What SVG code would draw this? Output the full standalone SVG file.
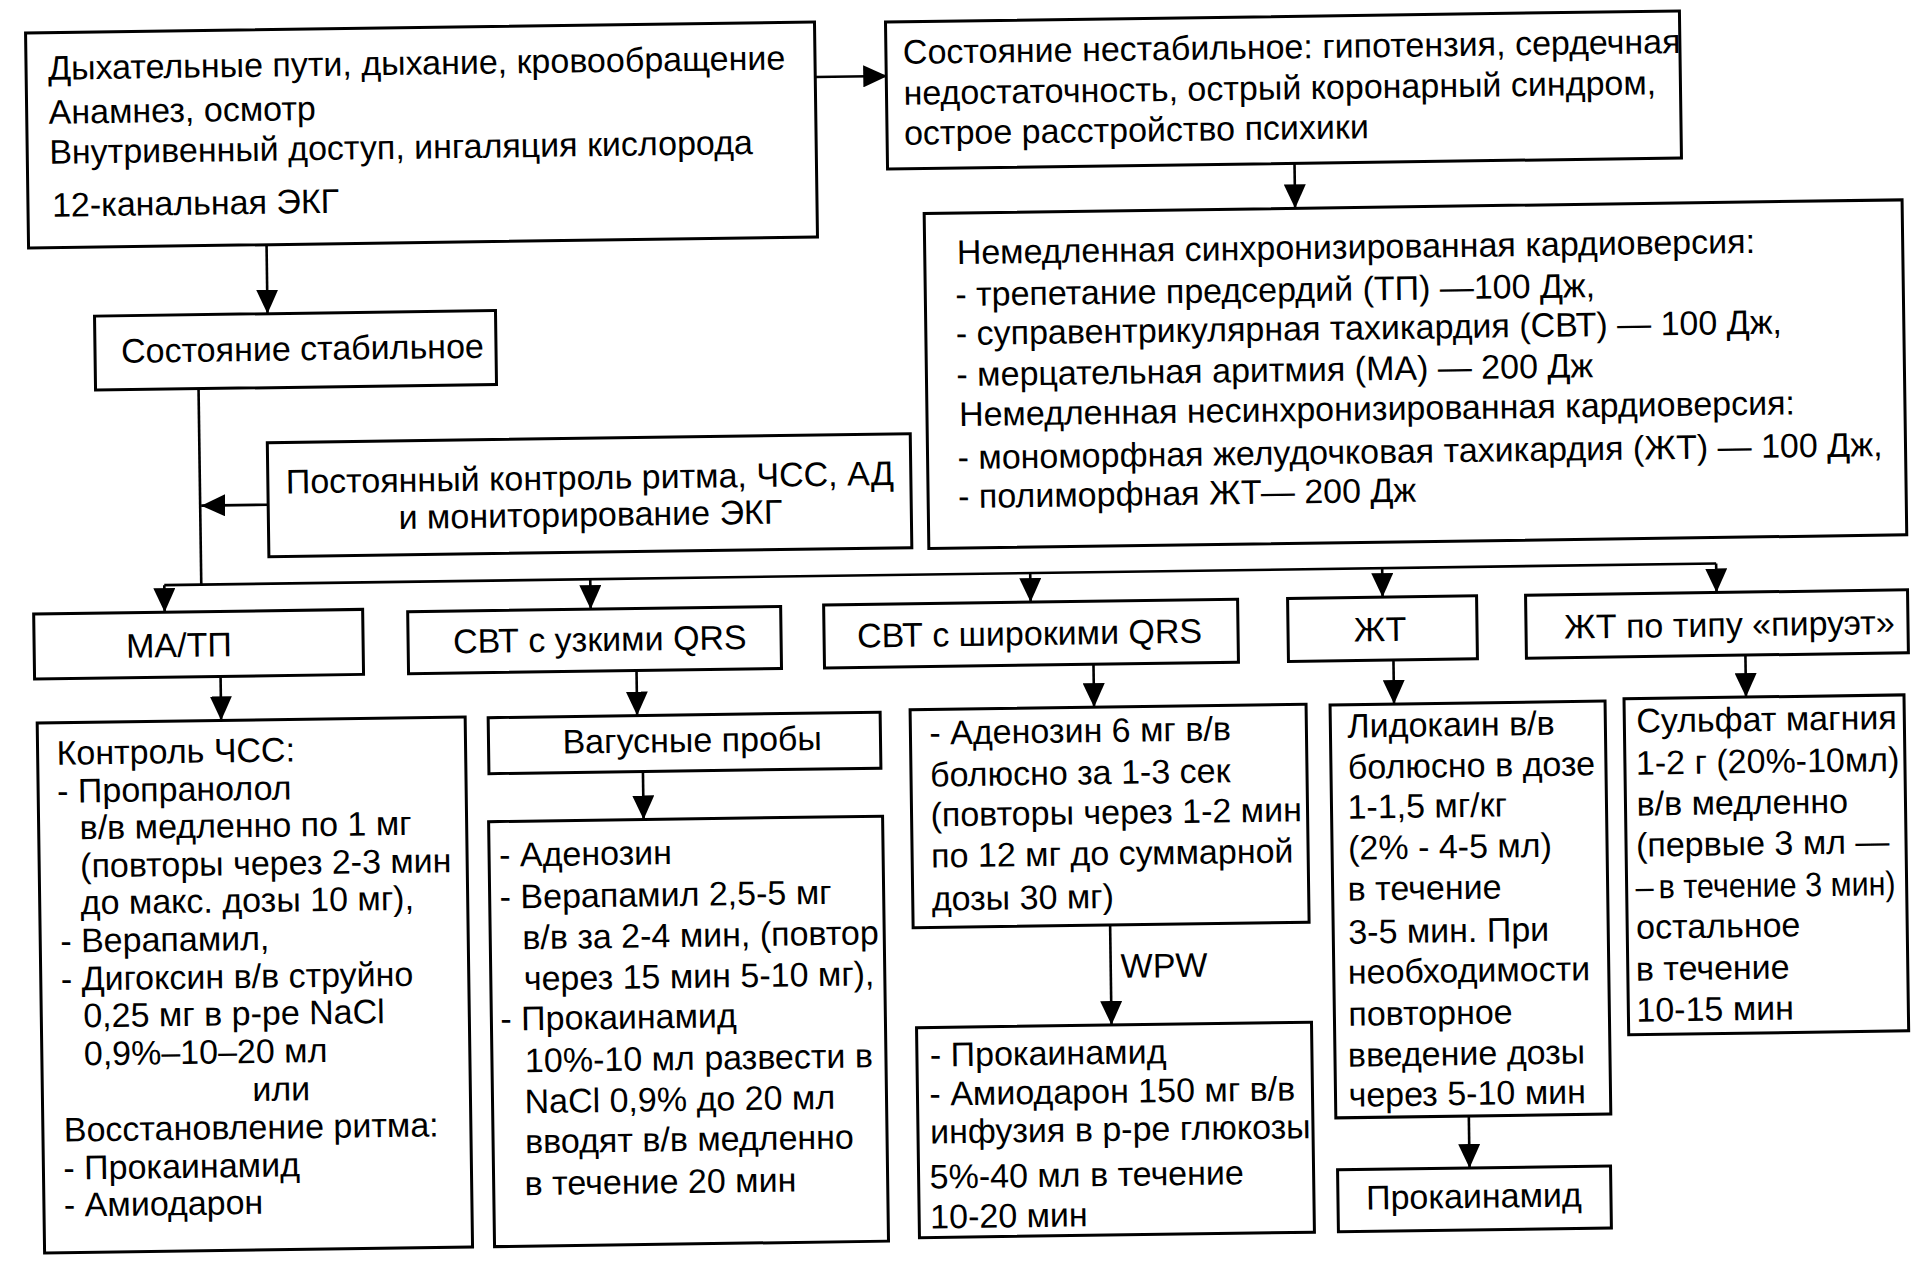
<svg xmlns="http://www.w3.org/2000/svg" width="1929" height="1263" viewBox="0 0 1929 1263">
<defs>
<marker id="ah" markerUnits="userSpaceOnUse" markerWidth="24" markerHeight="22" refX="24" refY="11" orient="auto">
<path d="M0,0 L24,11 L0,22 Z" fill="#000"/>
</marker>
<style>
.box{fill:#fff;stroke:#000;stroke-width:3}
.t{font-family:"Liberation Sans",Arial,sans-serif;font-size:34px;fill:#000}
.m{text-anchor:middle}
.c{fill:none;stroke:#000;stroke-width:2.6}
.a{marker-end:url(#ah)}
</style>
</defs>
<rect width="1929" height="1263" fill="#fff"/>
<g transform="rotate(-0.8 964 631)">
<g id="connectors">
<path class="c a" d="M823,75 H895"/>
<path class="c a" d="M272,235 V304"/>
<path class="c a" d="M1301,168 V213"/>
<path class="c" d="M202,378 V574"/>
<path class="c a" d="M270,495 H203"/>
<path class="c" d="M165,574 H1717"/>
<path class="c a" d="M165,574 V601"/>
<path class="c a" d="M591,574 V604"/>
<path class="c a" d="M1031,574 V603"/>
<path class="c a" d="M1383,574 V603"/>
<path class="c a" d="M1717,574 V603"/>
<path class="c a" d="M220,666 V710"/>
<path class="c a" d="M636,666 V711"/>
<path class="c a" d="M641,767 V815"/>
<path class="c a" d="M1093,666 V709"/>
<path class="c a" d="M1106,927 V1027"/>
<text class="t" x="1116" y="980">WPW</text>
<path class="c a" d="M1393,666 V710"/>
<path class="c a" d="M1462,1123 V1175"/>
<path class="c a" d="M1745,666 V708"/>
</g>
<g id="n1">
<rect class="box" x="34" y="20" width="789" height="215"/>
<text class="t" x="56" y="67">Дыхательные пути, дыхание, кровообращение</text>
<text class="t" x="56" y="111">Анамнез, осмотр</text>
<text class="t" x="56" y="151">Внутривенный доступ, ингаляция кислорода</text>
<text class="t" x="58" y="204">12-канальная ЭКГ</text>
</g>
<g id="n2">
<rect class="box" x="894" y="21" width="794" height="147"/>
<text class="t" x="911" y="63">Состояние нестабильное: гипотензия, сердечная</text>
<text class="t" x="911" y="104">недостаточность, острый коронарный синдром,</text>
<text class="t" x="911" y="144">острое расстройство психики</text>
</g>
<g id="n3">
<rect class="box" x="930" y="213" width="978" height="335"/>
<text class="t" x="962" y="264">Немедленная синхронизированная кардиоверсия:</text>
<text class="t" x="960" y="306">- трепетание предсердий (ТП) —100 Дж,</text>
<text class="t" x="960" y="345">- суправентрикулярная тахикардия (СВТ) — 100 Дж,</text>
<text class="t" x="960" y="386">- мерцательная аритмия (МА) — 200 Дж</text>
<text class="t" x="962" y="426">Немедленная несинхронизированная кардиоверсия:</text>
<text class="t" x="960" y="469">- мономорфная желудочковая тахикардия (ЖТ) — 100 Дж,</text>
<text class="t" x="960" y="508">- полиморфная ЖТ— 200 Дж</text>
</g>
<g id="n4">
<rect class="box" x="99" y="304" width="401" height="74"/>
<text class="t" x="125" y="351">Состояние стабильное</text>
</g>
<g id="n5">
<rect class="box" x="270" y="433" width="643" height="114"/>
<text class="t m" x="592" y="484">Постоянный контроль ритма, ЧСС, АД</text>
<text class="t m" x="592" y="521">и мониторирование ЭКГ</text>
</g>
<g id="n6">
<rect class="box" x="34" y="601" width="329" height="65"/>
<text class="t" x="126" y="646">МА/ТП</text>
</g>
<g id="n7">
<rect class="box" x="408" y="604" width="373" height="62"/>
<text class="t" x="453" y="646">СВТ с узкими QRS</text>
</g>
<g id="n8">
<rect class="box" x="824" y="603" width="414" height="63"/>
<text class="t" x="857" y="646">СВТ с широкими QRS</text>
</g>
<g id="n9">
<rect class="box" x="1288" y="603" width="189" height="63"/>
<text class="t m" x="1380" y="647">ЖТ</text>
</g>
<g id="n10">
<rect class="box" x="1526" y="603" width="382" height="63"/>
<text class="t" x="1564" y="647">ЖТ по типу «пируэт»</text>
</g>
<g id="n11">
<rect class="box" x="36" y="710" width="428" height="530"/>
<text class="t" x="55" y="752">Контроль ЧСС:</text>
<text class="t" x="55" y="790">- Пропранолол</text>
<text class="t" x="77" y="827">в/в медленно по 1 мг</text>
<text class="t" x="77" y="865">(повторы через 2-3 мин</text>
<text class="t" x="77" y="902">до макс. дозы 10 мг),</text>
<text class="t" x="56" y="940">- Верапамил,</text>
<text class="t" x="56" y="978">- Дигоксин в/в струйно</text>
<text class="t" x="78" y="1015">0,25 мг в р-ре NaCl</text>
<text class="t" x="78" y="1053">0,9%–10–20 мл</text>
<text class="t" x="246" y="1091">или</text>
<text class="t" x="57" y="1129">Восстановление ритма:</text>
<text class="t" x="56" y="1167">- Прокаинамид</text>
<text class="t" x="56" y="1204">- Амиодарон</text>
</g>
<g id="n12">
<rect class="box" x="487" y="711" width="392" height="56"/>
<text class="t" x="561" y="748">Вагусные пробы</text>
</g>
<g id="n13">
<rect class="box" x="486" y="815" width="394" height="425"/>
<text class="t" x="496" y="860">- Аденозин</text>
<text class="t" x="496" y="902">- Верапамил 2,5-5 мг</text>
<text class="t" x="518" y="943">в/в за 2-4 мин, (повтор</text>
<text class="t" x="519" y="984">через 15 мин 5-10 мг),</text>
<text class="t" x="495" y="1024">- Прокаинамид</text>
<text class="t" x="519" y="1066">10%-10 мл развести в</text>
<text class="t" x="518" y="1107">NaCl 0,9% до 20 мл</text>
<text class="t" x="518" y="1147">вводят в/в медленно</text>
<text class="t" x="517" y="1189">в течение 20 мин</text>
</g>
<g id="n14">
<rect class="box" x="909" y="709" width="396" height="218"/>
<text class="t" x="928" y="744">- Аденозин 6 мг в/в</text>
<text class="t" x="928" y="786">болюсно за 1-3 сек</text>
<text class="t" x="928" y="826">(повторы через 1-2 мин</text>
<text class="t" x="928" y="867">по 12 мг до суммарной</text>
<text class="t" x="928" y="910">дозы 30 мг)</text>
</g>
<g id="n15">
<rect class="box" x="911" y="1027" width="395" height="210"/>
<text class="t" x="924" y="1066">- Прокаинамид</text>
<text class="t" x="923" y="1105">- Амиодарон 150 мг в/в</text>
<text class="t" x="923" y="1143">инфузия в р-ре глюкозы</text>
<text class="t" x="922" y="1188">5%-40 мл в течение</text>
<text class="t" x="922" y="1228">10-20 мин</text>
</g>
<g id="n16">
<rect class="box" x="1329" y="710" width="275" height="413"/>
<text class="t" x="1346" y="743">Лидокаин в/в</text>
<text class="t" x="1346" y="784">болюсно в дозе</text>
<text class="t" x="1345" y="824">1-1,5 мг/кг</text>
<text class="t" x="1345" y="865">(2% - 4-5 мл)</text>
<text class="t" x="1344" y="906">в течение</text>
<text class="t" x="1344" y="949">3-5 мин. При</text>
<text class="t" x="1343" y="989">необходимости</text>
<text class="t" x="1343" y="1031">повторное</text>
<text class="t" x="1342" y="1072">введение дозы</text>
<text class="t" x="1342" y="1112">через 5-10 мин</text>
</g>
<g id="n17">
<rect class="box" x="1330" y="1175" width="273" height="62"/>
<text class="t m" x="1466" y="1215">Прокаинамид</text>
</g>
<g id="n18">
<rect class="box" x="1623" y="708" width="280" height="336"/>
<text class="t" x="1635" y="742">Сульфат магния</text>
<text class="t" x="1634" y="784">1-2 г (20%-10мл)</text>
<text class="t" x="1634" y="825">в/в медленно</text>
<text class="t" x="1633" y="866">(первые 3 мл —</text>
<text class="t" x="1632" y="908"><tspan textLength="18" lengthAdjust="spacingAndGlyphs">—</tspan> <tspan x="1655" textLength="237" lengthAdjust="spacingAndGlyphs">в течение 3 мин)</tspan></text>
<text class="t" x="1632" y="948">остальное</text>
<text class="t" x="1631" y="990">в течение</text>
<text class="t" x="1631" y="1031">10-15 мин</text>
</g>
</g>
</svg>
